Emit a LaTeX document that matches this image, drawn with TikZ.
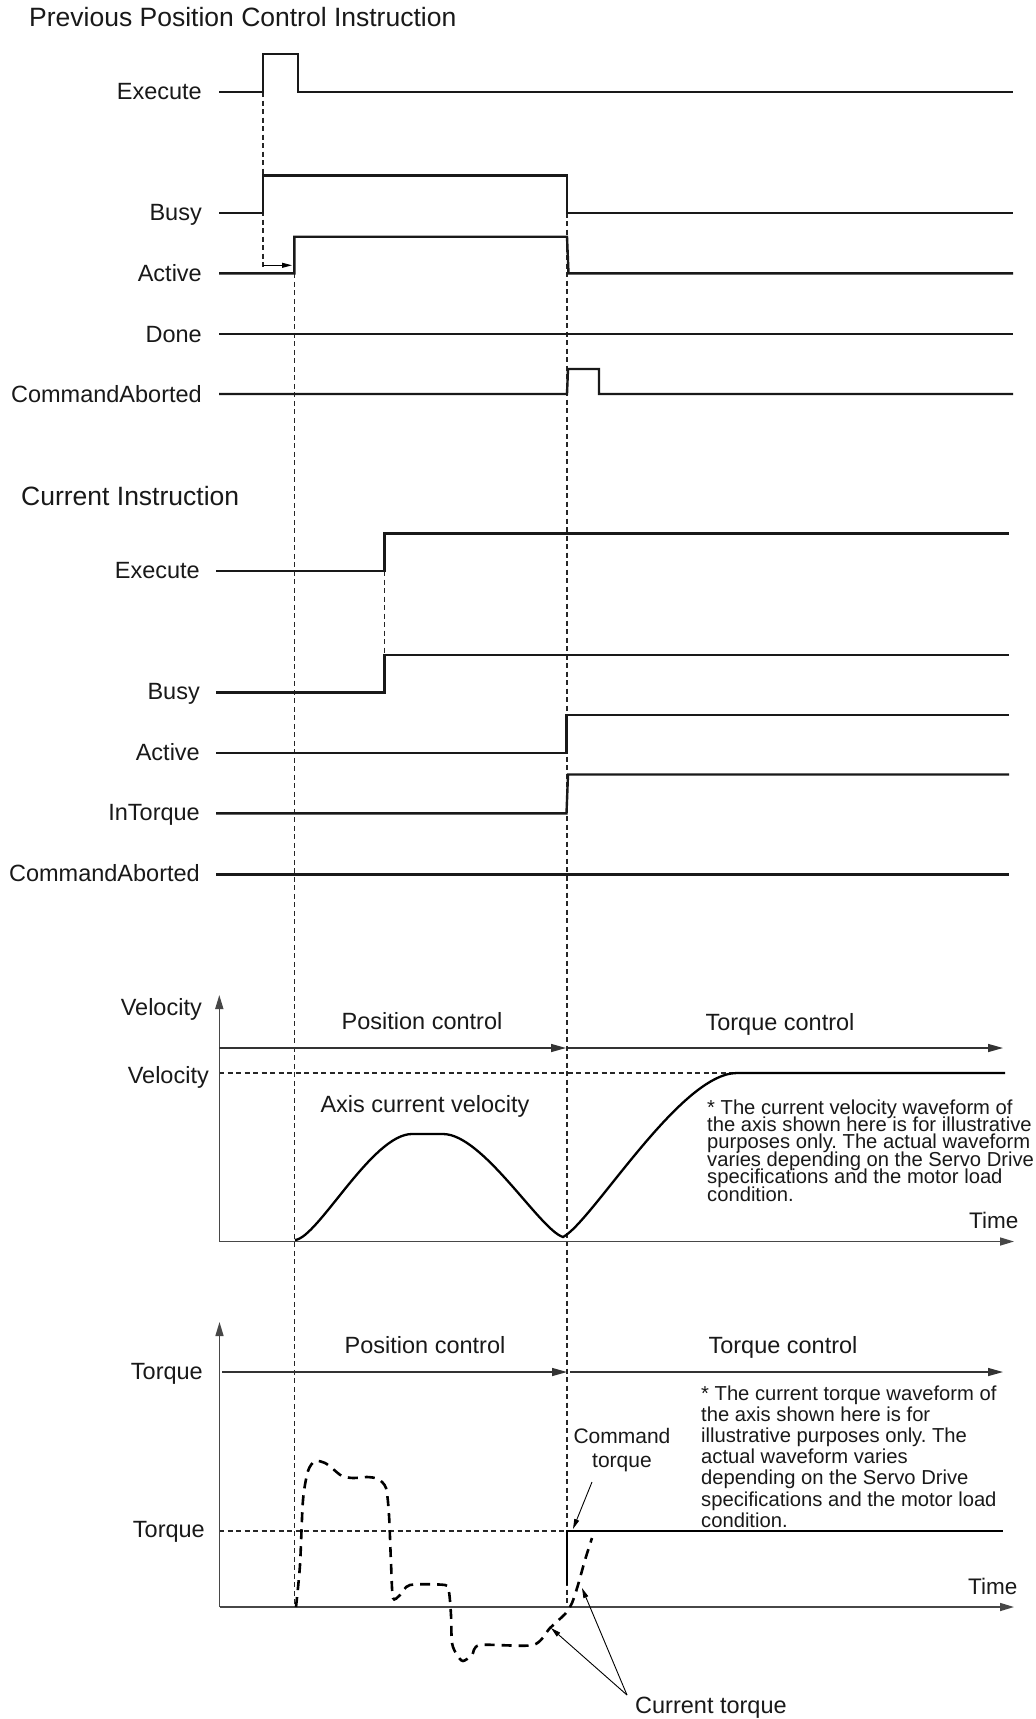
\documentclass[tikz,border=0pt]{standalone}
\usepackage{fontspec}
\setmainfont{Liberation Sans}
\usetikzlibrary{arrows.meta}
\frenchspacing
\begin{document}
\begin{tikzpicture}[x=1pt,y=-1pt,
  sig/.style={line width=2.4pt, draw=black!90, line join=miter},
  guide/.style={line width=1.1pt, draw=black!85, dash pattern=on 5pt off 3.5pt},
  axisline/.style={line width=1.5pt, draw=black!72, -{Triangle[length=14pt,width=8pt]}},
  ctrlarrow/.style={line width=1.5pt, draw=black!80, -{Triangle[length=15pt,width=8pt]}},
  thinarrow/.style={line width=0.9pt, draw=black, -{Triangle[length=10pt,width=5pt]}},
  lbl/.style={font=\fontsize{23.5}{28}\selectfont, inner sep=0pt, anchor=base east, text=black!90},
  ttl/.style={font=\fontsize{26.5}{31}\selectfont, inner sep=0pt, anchor=base west, text=black!90},
  ctr/.style={font=\fontsize{23.5}{28}\selectfont, inner sep=0pt, anchor=base, text=black!90},
  timetxt/.style={font=\fontsize{22.5}{27}\selectfont, inner sep=0pt, anchor=base west, text=black!90},
  notetxt/.style={font=\fontsize{20.2}{22}\selectfont\frenchspacing, inner sep=0pt, anchor=base west, text=black!90},
  curtorque/.style={line width=2.6pt, draw=black, dash pattern=on 10pt off 7pt, line cap=butt}
]
\useasboundingbox[fill=white] (0,0) rectangle (1036,1719);

% ---------- titles ----------
\node[ttl] (t1) at (29,26) {Previous Position Control Instruction};
\node[ttl] (t2) at (21,505) {Current Instruction};

% ---------- guide lines ----------
\draw[guide] (263,92) -- (263,268);
\draw[guide] (294.3,273.3) -- (294.3,1607);
\draw[guide] (567,212.7) -- (567,1607);
\draw[guide] (384.5,571) -- (384.5,655);
\draw[guide] (219,1073) -- (737,1073);
\draw[guide] (219,1531) -- (567,1531);

% ---------- previous instruction ----------
\node[lbl] (pexec) at (202,99) {Execute};
\node[lbl] (pbusy) at (202,220.5) {Busy};
\node[lbl] (pact) at (202,281) {Active};
\node[lbl] (pdone) at (202,342) {Done};
\node[lbl] (pabort) at (202,402) {CommandAborted};

\draw[sig] (219,92) -- (263,92) -- (263,54) -- (298,54) -- (298,92) -- (1013,92);
\draw[sig] (219,212.7) -- (263,212.7) -- (263,175.3) -- (567,175.3) -- (567,212.7) -- (1013,212.7);
\draw[sig] (219,273.3) -- (294.3,273.3) -- (294.3,236.7) -- (567,236.7) -- (568.5,273.3) -- (1013,273.3);
\draw[sig] (219,334) -- (1013,334);
\draw[sig] (219,394) -- (567,394) -- (568,369) -- (599,369) -- (599,394) -- (1013,394);
\draw[thinarrow] (263,265.3) -- (292,265.3);

% ---------- current instruction ----------
\node[lbl] (cexec) at (200,578) {Execute};
\node[lbl] (cbusy) at (200,699) {Busy};
\node[lbl] (cact) at (200,760) {Active};
\node[lbl] (ctorq) at (200,820) {InTorque};
\node[lbl] (cabort) at (200,881) {CommandAborted};

\draw[sig] (216,571) -- (384.5,571) -- (384.5,533.3) -- (1009,533.3);
\draw[sig] (216,692.3) -- (384.5,692.3) -- (384.5,655) -- (1009,655);
\draw[sig] (216,752.7) -- (566.5,752.7) -- (566.5,715) -- (1009,715);
\draw[sig] (216,813.3) -- (566.5,813.3) -- (568,774.5) -- (1009,774.5);
\draw[sig] (216,874.3) -- (1009,874.3);

% ---------- velocity chart ----------
\node[lbl] (vlab) at (202,1015) {Velocity};
\node[lbl] (vval) at (209,1083) {Velocity};
\draw[axisline] (219.3,1241.5) -- (219.3,995);
\draw[axisline] (219.3,1241.5) -- (1014,1241.5);
\draw[ctrlarrow] (219.3,1048) -- (566,1048);
\draw[ctrlarrow] (567.5,1048) -- (1003,1048);
\node[ctr] (vpos) at (422,1029) {Position control};
\node[ctr] (vtor) at (780,1030) {Torque control};
\node[ctr] (vaxis) at (425,1112) {Axis current velocity};
\node[timetxt] (vtime) at (969,1228) {Time};
\draw[line width=2.3pt, black] (295,1240) .. controls (318,1238) and (372,1134) .. (412,1134) -- (443,1134)
  .. controls (483,1134) and (540,1230) .. (563,1237)
  .. controls (592,1222) and (680,1073) .. (737,1073) -- (1005,1073);
\foreach \t [count=\k from 0] in {{* The current velocity waveform of},{the axis shown here is for illustrative},{purposes only. The actual waveform},{varies depending on the Servo Drive},{specifications and the motor load},{condition.}}
  \node[notetxt] (vnote\k) at (707,1114+\k*17.4) {\t};

% ---------- torque chart ----------
\node[lbl] (tlab) at (203,1379) {Torque};
\node[lbl] (tval) at (205,1537) {Torque};
\draw[axisline] (219.5,1607) -- (219.5,1322);
\draw[axisline] (219.5,1607) -- (1014,1607);
\draw[ctrlarrow] (222,1372) -- (567,1372);
\draw[ctrlarrow] (570,1372) -- (1003,1372);
\node[ctr] (tpos) at (425,1353) {Position control};
\node[ctr] (ttor) at (783,1353) {Torque control};
\node[timetxt] (ttime) at (968,1594) {Time};
\foreach \t [count=\k from 0] in {{* The current torque waveform of},{the axis shown here is for},{illustrative purposes only. The},{actual waveform varies},{depending on the Servo Drive},{specifications and the motor load},{condition.}}
  \node[notetxt] (tnote\k) at (701,1400+\k*21.2) {\t};

% command torque
\draw[line width=2.5pt, black] (567,1585) -- (567,1531) -- (1003,1531);
\node[font=\fontsize{21}{24}\selectfont, inner sep=0pt, anchor=base, text=black!90] (cmd1) at (622,1443) {Command};
\node[font=\fontsize{21}{24}\selectfont, inner sep=0pt, anchor=base, text=black!90] (cmd2) at (622,1467) {torque};
\coordinate (cmdtail) at (592,1482);
\coordinate (cmdtip) at (573,1529);
\draw[thinarrow] (cmdtail) -- (cmdtip);

% current torque (dashed)
\draw[curtorque] plot[smooth, tension=0.45] coordinates {
 (296,1607) (300,1565) (303,1500) (308,1471) (315,1461) (325,1463) (333,1469) (342,1476)
 (353,1478) (367,1477) (378,1479) (386,1488) (389,1515) (391,1563) (393,1598) (400,1595)
 (410,1585) (445,1585) (449,1592) (451,1615) (452,1643) (457,1655) (463,1661) (472,1655)
 (480,1645) (533,1645) (550,1628) (566,1613) (572,1603) (578,1585) (585,1560) (592,1538)};

\node[font=\fontsize{23.5}{28}\selectfont, inner sep=0pt, anchor=base west, text=black!90] (curt) at (635,1713) {Current torque};
\coordinate (ctail) at (627,1695);
\coordinate (ctip1) at (551,1628);
\coordinate (ctip2) at (582,1588);
\draw[thinarrow] (ctail) -- (ctip1);
\draw[thinarrow] (ctail) -- (ctip2);
\end{tikzpicture}
\end{document}
